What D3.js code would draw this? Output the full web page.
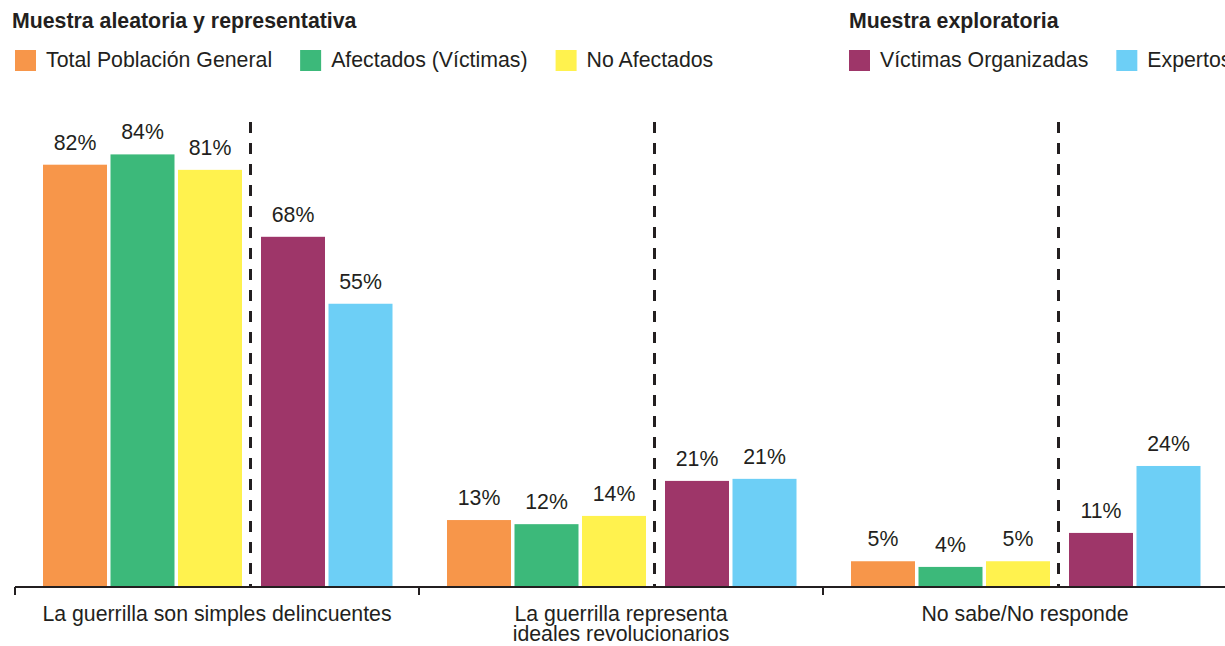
<!DOCTYPE html>
<html>
<head>
<meta charset="utf-8">
<script src="https://cdn.jsdelivr.net/npm/d3@7"></script>
<style>
  html, body { margin: 0; padding: 0; background: #ffffff; overflow: hidden; }
  svg { display: block; font-family: "Liberation Sans", Arial, Helvetica, sans-serif; }
</style>
</head>
<body>
<svg id="chart" width="1225" height="646"></svg>
<script>
// ---- data ----
const categories = [
  ["La guerrilla son simples delincuentes"],
  ["La guerrilla representa", "ideales revolucionarios"],
  ["No sabe/No responde"]
];
const seriesNames = ["Total Población General", "Afectados (Víctimas)", "No Afectados", "Víctimas Organizadas", "Expertos"];
const seriesColors = ["#f7964a", "#3cb97a", "#fff24e", "#9e3669", "#6dcff6"];
const totalPoblacion = [82, 13, 5];
const afectados = [84, 12.2, 3.9];
const noAfectados = [81, 13.8, 5];
const victimasOrganizadas = [68, 20.6, 10.5];
const expertos = [55, 21, 23.5];
const legendGroups = [
  { title: "Muestra aleatoria y representativa", series: [0, 1, 2] },
  { title: "Muestra exploratoria", series: [3, 4] }
];

const seriesValues = [totalPoblacion, afectados, noAfectados, victimasOrganizadas, expertos];
const catKeys = categories.map(c => c.join(" "));

const svg = d3.select("#chart");
const ink = "#231f20";
const fs = 21.3;

// ---- scales ----
const x0 = d3.scaleBand().domain(catKeys).range([15, 15 + 404 * 3]).padding(0);
const x1 = d3.scaleBand().domain(d3.range(5)).range([28, 362]).paddingInner(3.5 / 67.5).paddingOuter(0);
const exploratoryShift = 15.5;
const barX = (ci, si) => x0(catKeys[ci]) + x1(si) + (si >= 3 ? exploratoryShift : 0);
const y = d3.scaleLinear().domain([0, 100]).range([587, 72]);

// ---- legend ----
const titleX = [12, 849];
const swatchX = [15, 849];
legendGroups.forEach((g, gi) => {
  const lg = svg.append("g");
  lg.append("text")
    .attr("x", titleX[gi]).attr("y", 28)
    .attr("font-size", fs).attr("font-weight", "bold").attr("fill", ink)
    .text(g.title);
  let cx = swatchX[gi];
  g.series.forEach(si => {
    lg.append("rect").attr("x", cx).attr("y", 50).attr("width", 21).attr("height", 21)
      .attr("fill", seriesColors[si]);
    const t = lg.append("text").attr("x", cx + 31).attr("y", 67)
      .attr("font-size", fs).attr("fill", ink).text(seriesNames[si]);
    cx = cx + 31 + t.node().getComputedTextLength() + 28;
  });
});

// ---- bars ----
const data = [];
catKeys.forEach((c, ci) => seriesValues.forEach((vals, si) => data.push({ ci, si, v: vals[ci] })));

svg.append("g").selectAll("rect").data(data).join("rect")
  .attr("x", d => barX(d.ci, d.si))
  .attr("y", d => y(d.v))
  .attr("width", x1.bandwidth())
  .attr("height", d => y(0) - y(d.v))
  .attr("fill", d => seriesColors[d.si]);

svg.append("g").selectAll("text").data(data).join("text")
  .attr("x", d => barX(d.ci, d.si) + x1.bandwidth() / 2)
  .attr("y", d => y(d.v) - 15)
  .attr("text-anchor", "middle")
  .attr("font-size", fs)
  .attr("fill", ink)
  .text(d => Math.round(d.v) + "%");

// ---- dashed separators ----
svg.append("g").selectAll("line").data(catKeys).join("line")
  .attr("x1", c => x0(c) + 235.5).attr("x2", c => x0(c) + 235.5)
  .attr("y1", 122).attr("y2", y(0))
  .attr("stroke", ink).attr("stroke-width", 3).attr("stroke-dasharray", "11,10");

// ---- axis ----
const axis = svg.append("g");
axis.append("line")
  .attr("x1", x0.range()[0]).attr("x2", x0.range()[1])
  .attr("y1", y(0)).attr("y2", y(0))
  .attr("stroke", ink).attr("stroke-width", 2);
axis.selectAll("line.tick").data(catKeys.map(c => x0(c)).concat([x0.range()[1]])).join("line")
  .attr("class", "tick")
  .attr("x1", d => d).attr("x2", d => d)
  .attr("y1", y(0)).attr("y2", y(0) + 8)
  .attr("stroke", ink).attr("stroke-width", 2);

const labels = axis.selectAll("text.cat").data(categories).join("text")
  .attr("class", "cat")
  .attr("x", (d, i) => x0(catKeys[i]) + x0.bandwidth() / 2)
  .attr("y", 621)
  .attr("text-anchor", "middle")
  .attr("font-size", fs)
  .attr("fill", ink);
labels.selectAll("tspan").data(d => d).join("tspan")
  .attr("x", function () { return d3.select(this.parentNode).attr("x"); })
  .attr("dy", (d, i) => i === 0 ? 0 : 20)
  .text(d => d);
</script>
</body>
</html>
